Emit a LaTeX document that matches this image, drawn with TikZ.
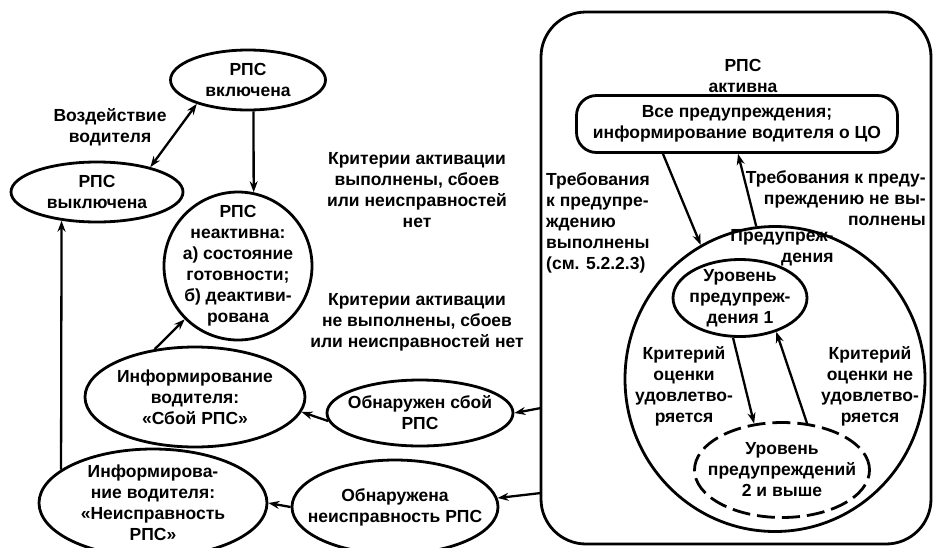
\documentclass[tikz,border=0pt]{standalone}
\usepackage{fontspec}
\setmainfont{Liberation Sans}
\usepackage{tikz}
\usetikzlibrary{
  arrows.meta,
  shapes.geometric
}

\begin{document}
\begin{tikzpicture}[x=1pt, y=-1pt,
    every node/.style={font=\bfseries\fontsize{17.5}{21}\selectfont, align=center},
    oval/.style 2 args={
      ellipse, draw, line width=2.8pt, inner sep=-30pt,
      minimum width=#1pt, minimum height=#2pt
    },
    lbl/.style={inner sep=0pt},
    arr/.style={-{Stealth[length=11pt,width=8pt]}, line width=2.3pt},
  ]
  \useasboundingbox (0,0) rectangle (934,547);

  %% --- Inactive / on / off ---
  \node[oval={155}{60}] (on)  at (248,80)  {РПС\\включена};
  \node[oval={172}{60}] (off) at (97,192)  {РПС\\выключена};
  \node[circle, draw, line width=2.8pt, inner sep=-30pt, minimum size=148pt]
    (idle) at (238,266) {РПС\\неактивна:\\а) состояние\\готовности;\\б) деактиви-\\рована};

  \draw[arr] (on.-80) -- (idle.78);
  \draw[{Stealth[length=11pt,width=8pt]}-{Stealth[length=11pt,width=8pt]}, line width=2.3pt]
    (off.25) -- (on.205);
  \node[lbl] (act) at (110,127) {Воздействие\\водителя};

  \node[lbl] (crit1) at (417,190) {Критерии активации\\выполнены, сбоев\\или неисправностей\\нет};
  \node[lbl] (crit2) at (417,322) {Критерии активации\\не выполнены, сбоев\\или неисправностей нет};

  %% --- Faults ---
  \node[oval={220}{100}] (info1)  at (195,397) {Информирование\\водителя:\\«Сбой РПС»};
  \node[oval={186}{66}]  (fail)   at (420,413) {Обнаружен сбой\\РПС};
  \node[oval={228}{108}] (info2)  at (153,503) {Информирова-\\ние водителя:\\«Неисправность\\РПС»};
  \node[oval={206}{94}]  (detect) at (395,507) {Обнаружена\\неисправность РПС};

  \draw[arr] (info1.130) -- (idle.225);
  \draw[arr] (fail.185) -- (info1.-8);
  \draw[arr] (detect.west) -- (info2.east);
  \draw[arr] (info2.160) -- (off.219);

  %% --- Active ---
  \node[draw, line width=2.8pt, rounded corners=45pt, minimum width=390pt,
    minimum height=532pt, inner sep=0pt] (active) at (736,278) {};
  \node[lbl] (acttitle) at (743,76) {РПС\\активна};
  \coordinate (actA) at (541,408);
  \coordinate (actB) at (541,493);
  \draw[arr] (actA) -- (fail.east);
  \draw[arr] (actB) -- (detect.5);

  \node[draw, line width=2.8pt, rounded corners=20pt, minimum width=321pt,
    minimum height=57pt, inner sep=0pt] (allwarn) at (737,124)
    {Все предупреждения;\\информирование водителя о ЦО};

  \node[oval={300}{305}] (warn) at (775,379) {};
  \node[lbl, align=right] (warnlbl) at (782,248) {Предупреж-\\дения};
  \node[oval={134}{77}] (lvl1) at (740,298) {Уровень\\предупреж-\\дения 1};
  \node[oval={175}{95}, dash pattern=on 18pt off 7pt] (lvl2) at (782,470)
    {Уровень\\предупреждений\\2 и выше};

  \draw[arr] (allwarn.202) -- (warn.119);
  \draw[arr] (warn.97) -- (allwarn.-88);
  \draw[arr] (lvl1.-100) -- (lvl2.121);
  \draw[arr] (lvl2.62) -- (lvl1.-43);

  \node[lbl, align=left, anchor=north west] (req1) at (546,172)
    {Требования\\к предупре-\\ждению\\выполнены\\(см. 5.2.2.3)};
  \node[lbl, align=right, anchor=north east] (req2) at (926,170)
    {Требования к преду-\\преждению не вы-\\полнены};
  \node[lbl] (ok)  at (684,386) {Критерий\\оценки\\удовлетво-\\ряется};
  \node[lbl] (nok) at (870,386) {Критерий\\оценки не\\удовлетво-\\ряется};
\end{tikzpicture}
\end{document}
